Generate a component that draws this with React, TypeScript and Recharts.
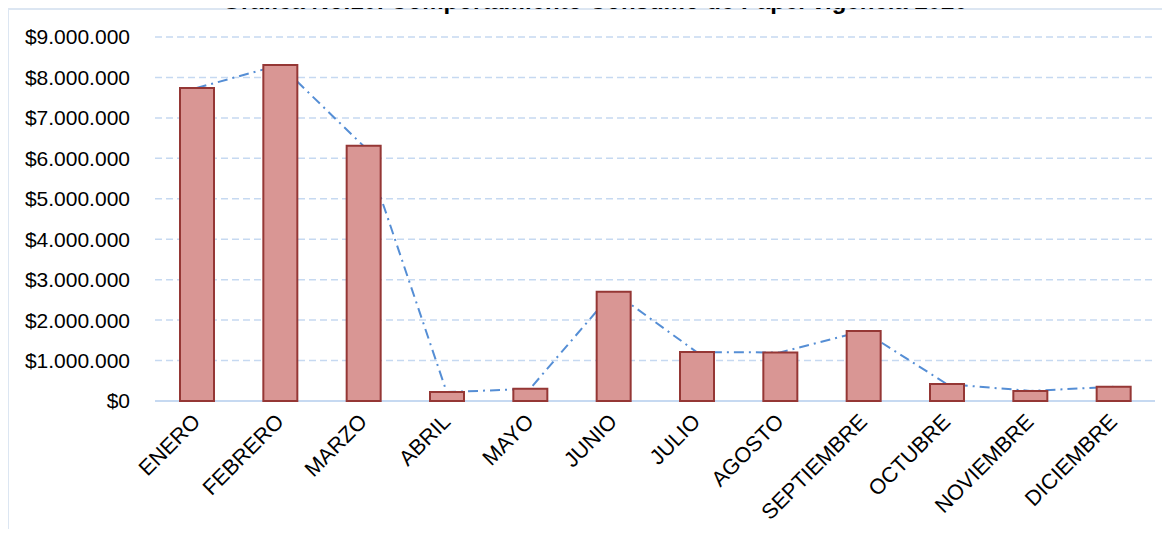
import React from 'react';
import { ComposedChart, Bar, Line, XAxis, YAxis, CartesianGrid } from 'recharts';

// months and paper consumption values (COP)
const meses = ['ENERO', 'FEBRERO', 'MARZO', 'ABRIL', 'MAYO', 'JUNIO', 'JULIO', 'AGOSTO', 'SEPTIEMBRE', 'OCTUBRE', 'NOVIEMBRE', 'DICIEMBRE'];
const consumo = [7740000, 8310000, 6310000, 220000, 300000, 2700000, 1210000, 1200000, 1730000, 420000, 250000, 350000];
const yTicks = [0, 1000000, 2000000, 3000000, 4000000, 5000000, 6000000, 7000000, 8000000, 9000000];

const data = meses.map((mes, i) => ({ mes, valor: consumo[i] }));

const FONT = "'Liberation Sans', Arial, sans-serif";
const fmt = (v: number) => '$' + String(v).replace(/\B(?=(\d{3})+(?!\d))/g, '.');
const margin = { top: 37, right: 15, bottom: 0, left: 15 };

const MonthTick = (props: any) => {
  const { x, y, payload } = props;
  return (
    <text
      x={x + 5}
      y={y + 14}
      transform={`rotate(-45, ${x + 5}, ${y + 14})`}
      textAnchor="end"
      fontSize={21.5}
      fill="#000"
      fontFamily={FONT}
    >
      {payload.value}
    </text>
  );
};

const App: React.FC = () => {
  return (
    <div style={{ position: 'relative', width: 1170, height: 537, margin: -8, background: '#fff', overflow: 'hidden' }}>
      <div style={{ position: 'absolute', left: 7, top: 8, width: 1200, height: 600, border: '2px solid #DCE6F2', boxSizing: 'border-box' }} />
      {/* base chart: grid, axes and the dash-dot line (hidden bar keeps the band scale) */}
      <div style={{ position: 'absolute', left: 0, top: 0 }}>
        <ComposedChart width={1170} height={537} data={data} margin={margin}>
          <CartesianGrid vertical={false} stroke="#C6D9F1" strokeDasharray="7 4" strokeWidth={1.5} />
          <XAxis
            dataKey="mes"
            height={136}
            interval={0}
            tickLine={false}
            axisLine={{ stroke: '#C6D9F1', strokeWidth: 2 }}
            tick={<MonthTick />}
          />
          <YAxis
            width={140}
            domain={[0, 9000000]}
            ticks={yTicks}
            tickFormatter={fmt}
            axisLine={false}
            tickLine={false}
            tickMargin={19}
            tick={{ fontSize: 21, fill: '#000', fontFamily: FONT }}
          />
          <Bar dataKey="valor" barSize={34} fill="none" stroke="none" isAnimationActive={false} />
          <Line
            type="linear"
            dataKey="valor"
            stroke="#558ED5"
            strokeWidth={2}
            strokeDasharray="10 5 2 5"
            dot={false}
            isAnimationActive={false}
          />
        </ComposedChart>
      </div>
      {/* bars on top so the line goes behind them */}
      <div style={{ position: 'absolute', left: 0, top: 0 }}>
        <ComposedChart width={1170} height={537} data={data} margin={margin}>
          <XAxis dataKey="mes" height={136} interval={0} tick={false} tickLine={false} axisLine={false} />
          <YAxis width={140} domain={[0, 9000000]} ticks={yTicks} tick={false} axisLine={false} tickLine={false} />
          <Bar dataKey="valor" barSize={34} fill="#D99694" stroke="#953735" strokeWidth={2} isAnimationActive={false} />
        </ComposedChart>
      </div>
      <svg width={1170} height={24} style={{ position: 'absolute', left: 0, top: 0 }}>
        <text x={595} y={9} textAnchor="middle" fontSize={24} fontWeight="bold" fontFamily={FONT}>
          Gráfica No.10. Comportamiento Consumo de Papel vigencia 2020
        </text>
      </svg>
    </div>
  );
};

export default App;
